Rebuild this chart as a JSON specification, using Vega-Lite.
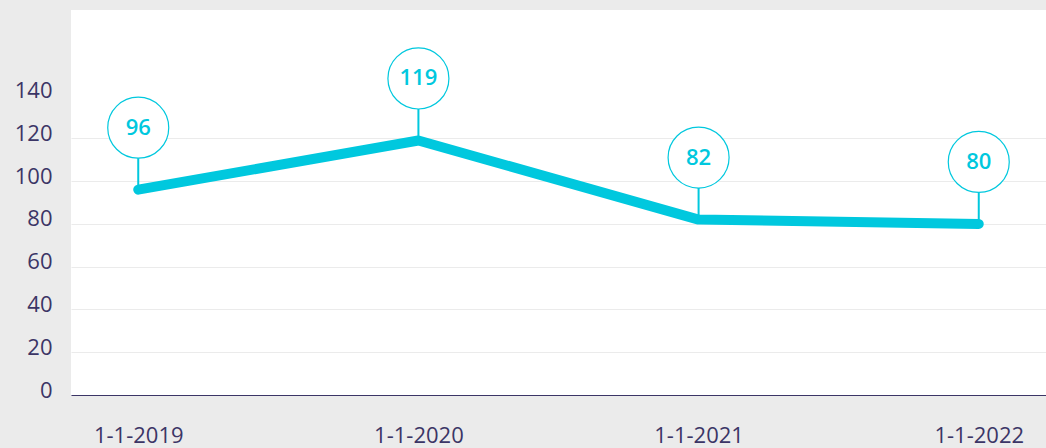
{
  "$schema": "https://vega.github.io/schema/vega-lite/v6.json",
  "width": 975,
  "height": 385,
  "autosize": {"type": "none"},
  "padding": {"left": 71, "top": 10, "right": 0, "bottom": 53},
  "background": "#ebebeb",
  "view": {"fill": "#ffffff", "stroke": null},
  "config": {
    "font": "Open Sans",
    "axis": {
      "labelFont": "Open Sans",
      "labelColor": "#3b3566",
      "labelFontSize": 22,
      "labelFontWeight": 400,
      "title": null,
      "ticks": false
    }
  },
  "data": {
    "values": [
      {"date": "1-1-2019", "value": 96},
      {"date": "1-1-2020", "value": 119},
      {"date": "1-1-2021", "value": 82},
      {"date": "1-1-2022", "value": 80}
    ]
  },
  "encoding": {
    "x": {
      "field": "date",
      "type": "ordinal",
      "sort": null,
      "scale": {"type": "point", "padding": 0.24},
      "axis": {
        "labelAngle": 0,
        "labelPadding": 30,
        "labelBaseline": "top",
        "domain": true,
        "domainColor": "#3b3566",
        "domainWidth": 1.2,
        "grid": false
      }
    },
    "y": {
      "field": "value",
      "type": "quantitative",
      "scale": {"domain": [0, 180], "nice": false},
      "axis": {
        "values": [0, 20, 40, 60, 80, 100, 120, 140],
        "labelPadding": 19,
        "labelOffset": -5,
        "domain": false,
        "grid": true,
        "gridColor": {"condition": {"test": "datum.value >= 140", "value": "#ffffff"}, "value": "#ebebeb"},
        "gridWidth": 1
      }
    }
  },
  "layer": [
    {
      "mark": {"type": "line", "color": "#00c8de", "strokeWidth": 10, "strokeCap": "round", "strokeJoin": "round"}
    },
    {
      "mark": {"type": "rule", "color": "#00c8de", "strokeWidth": 2, "y2Offset": -32},
      "encoding": {"y2": {"field": "value"}}
    },
    {
      "mark": {"type": "point", "shape": "circle", "size": 3721, "filled": true, "fill": "#ffffff", "stroke": "#00c8de", "strokeWidth": 1.2, "opacity": 1, "yOffset": -62}
    },
    {
      "mark": {"type": "text", "color": "#00c8de", "font": "Open Sans", "fontSize": 22, "fontWeight": 600, "align": "center", "baseline": "middle", "yOffset": -62},
      "encoding": {"text": {"field": "value", "type": "quantitative"}}
    }
  ]
}
